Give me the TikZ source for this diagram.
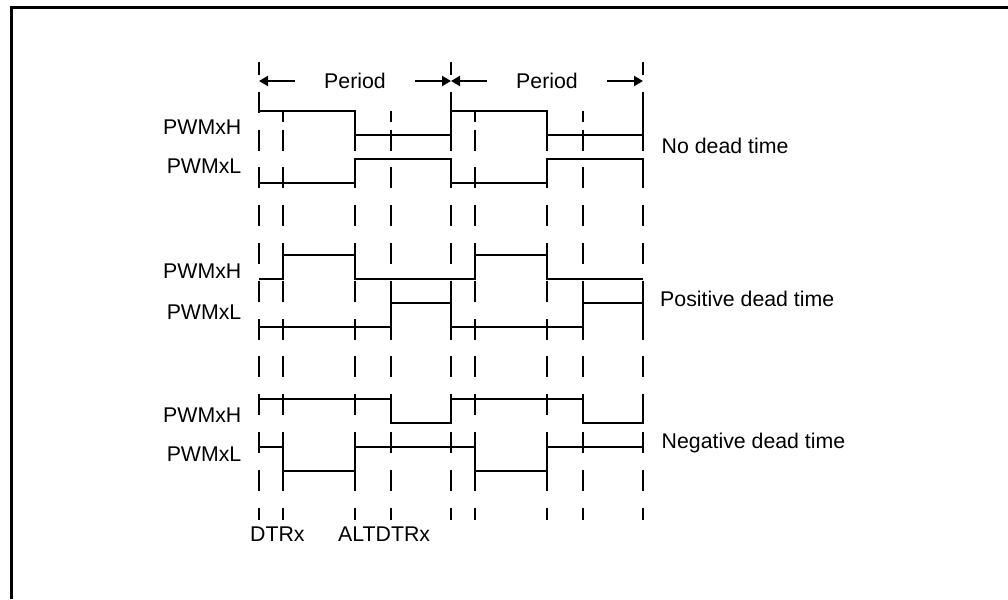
\documentclass[tikz,border=0pt]{standalone}
\usepackage{fontspec}
\setmainfont{Liberation Sans}
\usetikzlibrary{arrows.meta}

\begin{document}
\begin{tikzpicture}[
    x=1pt, y=-1pt,
    every node/.style={font=\fontsize{21.3}{25}\selectfont, inner sep=0pt},
    wave/.style={line width=2.6pt},
    guide/.style={line width=2.6pt, dash pattern=on 21pt off 16.8pt},
    edgeguide/.style={guide, dash phase=8pt},
    periodarrow/.style={line width=2.4pt, -{Triangle[length=9pt,width=10pt]}},
    signame/.style={anchor=base east},
    modename/.style={anchor=base west},
  ]
  \useasboundingbox (0,0) rectangle (1008,599);

  % frame
  \draw[line width=3pt] (11,599) -- (11,7.5) -- (1008,7.5);

  % period boundaries
  \coordinate (t0) at (259,81);
  \coordinate (t4) at (451,81);
  \coordinate (t8) at (643,81);

  % guide lines
  \draw[edgeguide] (259,62) -- (259,520) (451,62) -- (451,520) (643,62) -- (643,520);
  \draw[guide] (283,129.6) -- (283,520) (355,129.6) -- (355,520) (391,129.6) -- (391,520)
               (475,129.6) -- (475,520) (547,129.6) -- (547,520) (583,129.6) -- (583,520);
  \draw[wave] (283,111) -- (283,122) (355,111) -- (355,122) (391,111) -- (391,122)
              (475,111) -- (475,122) (547,111) -- (547,122) (583,111) -- (583,122);

  % period arrows
  \node[inner xsep=29pt] (per1) at (355,81) {Period};
  \node[inner xsep=29pt] (per2) at (547,81) {Period};
  \draw[periodarrow] (per1.west) -- (t0);
  \draw[periodarrow] (per1.east) -- (t4);
  \draw[periodarrow] (per2.west) -- (t4);
  \draw[periodarrow] (per2.east) -- (t8);

  % no dead time
  \draw[wave] (259,111) -- (355,111) -- (355,135) -- (451,135) -- (451,111) -- (547,111) -- (547,135) -- (643,135) -- (643,111);
  \draw[wave] (259,183) -- (355,183) -- (355,159) -- (451,159) -- (451,183) -- (547,183) -- (547,159) -- (643,159) -- (643,183);

  % positive dead time
  \draw[wave] (259,279) -- (283,279) -- (283,255) -- (355,255) -- (355,279) -- (475,279) -- (475,255) -- (547,255) -- (547,279) -- (643,279);
  \draw[wave] (259,327) -- (391,327) -- (391,303) -- (451,303) -- (451,327) -- (583,327) -- (583,303) -- (643,303) -- (643,327);

  % negative dead time
  \draw[wave] (259,399) -- (391,399) -- (391,423) -- (451,423) -- (451,399) -- (583,399) -- (583,423) -- (643,423) -- (643,399);
  \draw[wave] (259,447) -- (283,447) -- (283,471) -- (355,471) -- (355,447) -- (475,447) -- (475,471) -- (547,471) -- (547,447) -- (643,447);

  % labels
  \node[signame] (h1) at (241.5,134) {PWMxH};
  \node[signame] (l1) at (241.5,173) {PWMxL};
  \node[signame] (h2) at (241.5,278) {PWMxH};
  \node[signame] (l2) at (241.5,319) {PWMxL};
  \node[signame] (h3) at (241.5,422) {PWMxH};
  \node[signame] (l3) at (241.5,461) {PWMxL};

  \node[modename] (m1) at (661.5,153) {No dead time};
  \node[modename] (m2) at (660,306) {Positive dead time};
  \node[modename] (m3) at (661.5,448) {Negative dead time};

  \node[modename] (dtr) at (250,541) {DTRx};
  \node[modename] (altdtr) at (338,541) {ALTDTRx};
\end{tikzpicture}
\end{document}
